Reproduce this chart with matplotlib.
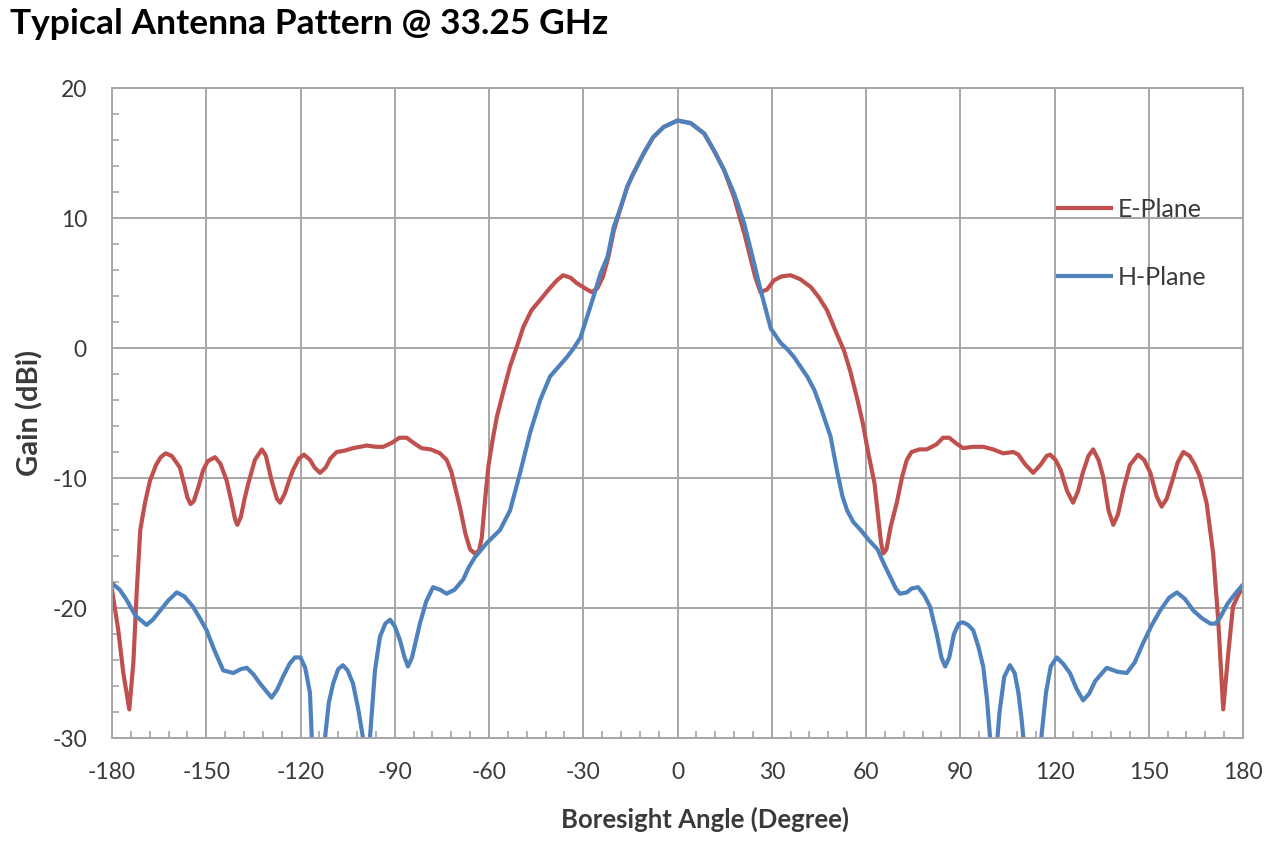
import numpy as np
import matplotlib.pyplot as plt
from matplotlib.ticker import MultipleLocator

# E-Plane gain (dBi)
e_angle = [-180, -178, -176.4, -174.5, -173.2, -172.1, -171, -169.5, -167.9, -166, -164.5, -162.9, -161, -159.5,
           -158.4, -157, -156, -155, -154, -152.5, -151, -149.5, -147.2, -145.5, -143.5, -142, -140.8, -140.1,
           -139, -137.8, -136.6, -134.5, -132.3, -131, -129.2, -127.5, -126.5, -125, -123.5, -122.4, -120.5,
           -118.9, -117, -115.5, -113.8, -112, -110.5, -108.5, -106, -103.3, -101, -98.9, -96, -93.7, -91, -88.5,
           -86.2, -84, -81.5, -78.5, -75.6, -73.5, -72, -70.5, -69.2, -67.5, -66, -64.5, -63.2, -62.3, -61.3,
           -60.2, -58.8, -57.5, -55.5, -53.3, -51, -49.1, -46.5, -43.7, -41, -38.4, -36.4, -34, -32.1, -29.5,
           -27.3, -25.5, -23.7, -22, -20.3, -18.1, -16, -14.1, -10.7, -7.8, -4.4, 0, 4.2, 8.5, 11.6, 14.8, 18,
           21.5, 24.7, 26.4, 28.5, 30.7, 33, 36, 39, 42.4, 45, 47.6, 50.5, 53, 55, 57.3, 59, 60.5, 61.7, 62.7,
           63.8, 64.8, 65.5, 66.5, 67.8, 69.8, 71.5, 73, 74.5, 77, 79.3, 82.5, 84.5, 86.5, 88.5, 90.9, 94, 97.3,
           100.5, 103.6, 106.9, 108.5, 110.5, 113.2, 115.5, 117.5, 118.6, 120.3, 122, 124, 125.9, 127.5, 129,
           130.8, 132.3, 134, 135.5, 137.2, 138.7, 140.2, 142, 144, 146.6, 148.5, 150.5, 152.5, 154.1, 155.7,
           157.5, 159.2, 161, 163, 164.7, 166.3, 168.4, 170.5, 172.1, 173.7, 175.3, 176.8, 178.5, 180]
e_gain = [-18.6, -21.7, -25.0, -27.8, -24.2, -18.6, -14.0, -11.9, -10.2, -9.0, -8.4, -8.1, -8.3, -8.8,
          -9.2, -10.5, -11.5, -12.0, -11.8, -10.7, -9.4, -8.7, -8.4, -8.9, -10.2, -11.8, -13.2, -13.6,
          -13.0, -11.6, -10.4, -8.6, -7.8, -8.3, -10.2, -11.6, -11.9, -11.2, -10.1, -9.4, -8.5,
          -8.2, -8.6, -9.2, -9.6, -9.2, -8.5, -8.0, -7.9, -7.7, -7.6, -7.5, -7.6, -7.6, -7.3, -6.9,
          -6.9, -7.3, -7.7, -7.8, -8.1, -8.6, -9.5, -11.0, -12.3, -14.3, -15.5, -15.8, -15.6, -14.6, -11.8,
          -9.1, -7.0, -5.3, -3.4, -1.4, 0.2, 1.6, 2.9, 3.7, 4.5, 5.2, 5.6, 5.4, 5.0, 4.6,
          4.3, 4.6, 5.5, 7.0, 9.0, 10.8, 12.4, 13.4, 15.0, 16.2, 17.0, 17.5, 17.3, 16.5, 15.2, 13.7, 11.6,
          8.6, 5.5, 4.3, 4.5, 5.2, 5.5, 5.6, 5.3, 4.7, 3.9, 2.9, 1.2, -0.2, -1.8, -4.0, -5.8, -7.8, -9.2, -10.4,
          -12.8, -15.0, -15.8, -15.5, -13.8, -11.9, -9.9, -8.6, -8.0, -7.8, -7.8, -7.4, -6.9, -6.9, -7.3, -7.7, -7.6, -7.6,
          -7.8, -8.1, -8.0, -8.2, -8.9, -9.6, -9.0, -8.3, -8.2, -8.6, -9.4, -11.0, -11.9, -11.0, -9.6,
          -8.3, -7.8, -8.6, -9.9, -12.5, -13.6, -12.8, -10.8, -9.0, -8.2, -8.6, -9.6, -11.4, -12.2, -11.6,
          -10.2, -8.8, -8.0, -8.3, -9.0, -9.9, -11.9, -15.8, -20.9, -27.8, -23.5, -19.9, -19.0, -18.4]

# H-Plane gain (dBi)
h_angle = [-180, -177.5, -175.3, -172.5, -169, -167, -164.7, -162, -159.4, -157, -154.2, -152, -149.9, -147.5,
           -144.6, -141.4, -139, -137.1, -135, -132.9, -129.2, -127.5, -125.6, -123.5, -121.8, -120, -118.5,
           -117, -116.4, -115, -114, -113, -112.2, -111, -109.6, -108, -106.5, -105, -103.3, -101.6, -100.1,
           -99, -97.9, -96.3, -94.7, -93, -91.5, -90, -88.3, -87, -85.8, -84.5, -82, -80, -77.8, -75.5, -73.5,
           -71, -68.2, -66.5, -64.5, -60.7, -56.5, -53.3, -50.1, -46.9, -43.7, -40.6, -35.2, -33, -30.9, -28.8,
           -26.8, -24.4, -22.3, -20.3, -18.1, -16, -14.1, -10.7, -7.8, -4.4, 0, 4.2, 8.5, 11.6, 14.8, 18, 21.2,
           24.4, 26.4, 29.7, 32.8, 35, 37.1, 41.3, 43.5, 45.5, 48.7, 50.9, 52.5, 54, 56, 58.3, 61, 63.7, 65.5,
           67.5, 69.5, 70.8, 73, 74.5, 76.6, 78.5, 80.4, 82.5, 84, 85.2, 86.5, 88, 89.5, 90.9, 92.5, 94.1, 95.8,
           97.3, 98.5, 99.5, 100.5, 101.5, 102.5, 104, 105.8, 107.3, 108.5, 109.5, 110.5, 111.8, 113.5, 115,
           116, 117.3, 118.8, 120.7, 122.8, 124.9, 127, 129.1, 131, 133, 136.6, 140, 143, 145.5, 148.2, 151,
           153.6, 156.5, 159, 161.5, 164.2, 167, 169.6, 171.3, 172.8, 175, 177.5, 180]
h_gain = [-18.1, -18.6, -19.4, -20.6, -21.3, -20.9, -20.2, -19.4, -18.8, -19.1, -19.9, -20.8, -21.7, -23.2,
          -24.8, -25.0, -24.7, -24.6, -25.1, -25.8, -26.9, -26.3, -25.3, -24.3, -23.8, -23.8, -24.6,
          -26.5, -30.0, -33.0, -34.0, -32.5, -30.0, -27.3, -25.8, -24.7, -24.4, -24.8, -25.8, -27.8, -30.0,
          -32.0, -30.0, -24.8, -22.2, -21.2, -20.9, -21.4, -22.5, -23.7, -24.5, -23.8, -21.2, -19.5, -18.4, -18.6, -18.9,
          -18.6, -17.8, -16.9, -16.1, -15.0, -14.0, -12.5, -9.6, -6.5, -4.0, -2.2, -0.7, 0.0, 0.8, 2.4,
          3.9, 5.8, 7.0, 9.3, 10.8, 12.4, 13.4, 15.0, 16.2, 17.0, 17.5, 17.3, 16.5, 15.2, 13.7, 11.9, 9.6,
          6.5, 4.5, 1.5, 0.4, -0.1, -0.7, -2.2, -3.2, -4.5, -6.8, -9.6, -11.4, -12.5, -13.4, -14.0, -14.8, -15.5, -16.5,
          -17.5, -18.5, -18.9, -18.8, -18.5, -18.4, -19.0, -19.9, -22.0, -23.8, -24.5, -23.8, -22.0, -21.2, -21.1, -21.3, -21.7, -23.0,
          -24.5, -27.0, -30.0, -33.0, -31.0, -28.0, -25.3, -24.4, -25.0, -26.5, -28.5, -31.0, -33.5, -34.0, -32.0,
          -29.5, -26.5, -24.5, -23.8, -24.3, -25.0, -26.2, -27.1, -26.6, -25.6, -24.6, -24.9, -25.0, -24.2, -22.7, -21.3,
          -20.2, -19.2, -18.8, -19.3, -20.2, -20.8, -21.2, -21.2, -20.7, -19.7, -18.9, -18.2]

x_ticks = np.arange(-180, 181, 30)
y_ticks = np.arange(-30, 21, 10)

plt.rcParams['font.family'] = ['Lato', 'DejaVu Sans']
plt.rcParams['axes.unicode_minus'] = False

fig = plt.figure(figsize=(12.8, 8.48), dpi=100)
ax = fig.add_axes([0.0875, 0.1297, 0.8836, 0.7665])

ax.plot(e_angle, e_gain, color='#C0504D', lw=3, label='E-Plane', solid_joinstyle='round')
ax.plot(h_angle, h_gain, color='#4F81BD', lw=3, label='H-Plane', solid_joinstyle='round')

ax.set_xlim(-180, 180)
ax.set_ylim(-30, 20)
ax.set_xticks(x_ticks)
ax.set_yticks(y_ticks)
ax.xaxis.set_minor_locator(MultipleLocator(6))
ax.yaxis.set_minor_locator(MultipleLocator(2))
ax.grid(True, which='major', color='#A6A6A6', lw=1.4)
ax.set_axisbelow(True)
for s in ax.spines.values():
    s.set_color('#A6A6A6')
    s.set_linewidth(1.4)
ax.tick_params(which='major', length=0, labelsize=16.5, labelcolor='#3a3a3a')
ax.tick_params(axis='x', which='major', pad=17)
ax.tick_params(axis='y', which='major', pad=18)
ax.tick_params(which='minor', direction='in', length=5, color='#A6A6A6', width=1.2)

ax.set_xlabel('Boresight Angle (Degree)', fontsize=18.5, fontweight='bold', color='#3a3a3a', labelpad=17)
ax.xaxis.label.set_x(0.524)
ax.set_ylabel('Gain (dBi)', fontsize=21, fontweight='bold', color='#3a3a3a', labelpad=6)

ax.legend(loc='center left', bbox_to_anchor=(0.8276, 0.7615), borderaxespad=0, frameon=False, fontsize=18,
          handlelength=2.1, handletextpad=0.3, labelspacing=1.8, labelcolor='#3a3a3a')

fig.text(0.008, 0.972, 'Typical Antenna Pattern @ 33.25 GHz', fontsize=25.5, fontweight='bold', va='center', ha='left')

fig.savefig('out.png', dpi=100)
